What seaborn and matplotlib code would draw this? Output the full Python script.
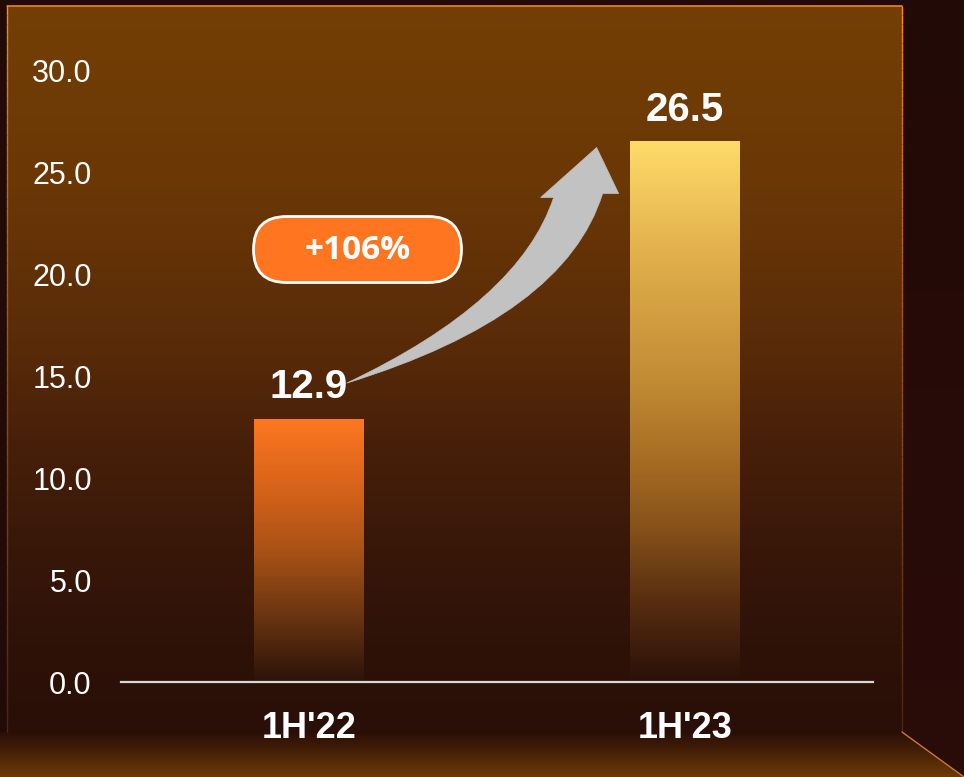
import numpy as np
import matplotlib
matplotlib.use("Agg")
import matplotlib.pyplot as plt
import seaborn as sns
import pandas as pd
from matplotlib.colors import LinearSegmentedColormap, to_rgba
from matplotlib.patches import Polygon, FancyBboxPatch, PathPatch
from matplotlib.path import Path
from matplotlib.collections import LineCollection

# ---------------- data ----------------
categories = ["1H'22", "1H'23"]
values = [12.9, 26.5]
growth_label = "+106%"
y_ticks = [0, 5, 10, 15, 20, 25, 30]

# ---------------- style ----------------
sns.set_theme(style="white")
plt.rcParams["font.family"] = ["Liberation Sans", "DejaVu Sans"]

W, H = 964, 777
fig = plt.figure(figsize=(W / 100, H / 100), dpi=100, facecolor="#220a06")


def vgrad(stops, n=256):
    cmap = LinearSegmentedColormap.from_list("g", stops)
    return cmap(np.linspace(0, 1, n))[:, None, :]


# ---------------- background (pixel coords) ----------------
bg = fig.add_axes([0, 0, 1, 1], zorder=0)
bg.set_xlim(0, W)
bg.set_ylim(H, 0)
bg.axis("off")

# right wall tint
wall = Polygon([(902, 0), (964, 0), (964, 777), (902, 732)], closed=True,
               facecolor="none", edgecolor="none")
bg.add_patch(wall)
wall_im = bg.imshow(vgrad([(0, "#220a07"), (0.5, "#260b08"), (1, "#2a0c08")]),
                    extent=[902, 964, 777, 0], aspect="auto",
                    interpolation="bilinear", zorder=1)
wall_im.set_clip_path(wall)

panel_stops = [(0, "#743f05"), (0.25, "#6a3706"), (0.45, "#5a2c08"),
               (0.6, "#48200a"), (0.75, "#381709"), (0.88, "#2e1208"),
               (1, "#290f07")]
bg.imshow(vgrad(panel_stops), extent=[7, 902, 732, 6], aspect="auto",
          interpolation="bilinear", zorder=1)

floor_poly = Polygon([(0, 732), (902, 732), (964, 777), (0, 777)],
                     closed=True, facecolor="none", edgecolor="none")
bg.add_patch(floor_poly)
floor_im = bg.imshow(vgrad([(0, "#2a0e06"), (0.5, "#4a2307"), (1, "#6e3a06")]),
                     extent=[0, 964, 777, 732], aspect="auto",
                     interpolation="bilinear", zorder=1)
floor_im.set_clip_path(floor_poly)

# panel border: bright on top, fading down the sides
bg.plot([7, 902], [6, 6], color="#ff8c1a", lw=1.1, zorder=3)
bright = np.array(to_rgba("#ff8c1a"))
dim = np.array(to_rgba("#4a2414"))
ys = np.linspace(6, 732, 80)
for xe in (7, 902):
    segs = [[(xe, ys[k]), (xe, ys[k + 1])] for k in range(len(ys) - 1)]
    t = np.clip((ys[:-1] - 6) / 726, 0, 1) ** 0.8
    cols = bright[None, :] * (1 - t[:, None]) + dim[None, :] * t[:, None]
    bg.add_collection(LineCollection(segs, colors=cols, lw=1.0, zorder=3))
bg.plot([902, 964], [732, 777], color="#c87a30", lw=1.0, zorder=3)
bg.set_xlim(0, W)
bg.set_ylim(H, 0)

# ---------------- main chart ----------------
ax = fig.add_axes([121 / W, (H - 682) / H, 752 / W, 612 / H], zorder=2)
ax.patch.set_alpha(0)

df = pd.DataFrame({"period": categories, "value": values})
sns.barplot(data=df, x="period", y="value", ax=ax, width=0.29,
            color="#fd7721", saturation=1, errorbar=None)

bar_stops = [
    [(0, "#fd7721"), (0.25, "#d9641b"), (0.5, "#aa5216"),
     (0.75, "#6a3511"), (1, "#2c1309")],
    [(0, "#fedb69"), (0.2, "#e3b14d"), (0.45, "#c08a33"), (0.6, "#a56a22"),
     (0.72, "#85501a"), (0.86, "#552c10"), (1, "#2a1009")],
]
for p, stops in zip(ax.patches, bar_stops):
    x0, w, h = p.get_x(), p.get_width(), p.get_height()
    p.set_facecolor("none")
    p.set_edgecolor("none")
    im = ax.imshow(vgrad(stops), extent=[x0, x0 + w, 0, h], aspect="auto",
                   interpolation="bilinear", zorder=2)
    im.set_clip_path(p)

ax.set_xlim(-0.5, 1.5)
ax.set_ylim(0, 30)
ax.set_yticks(y_ticks)
ax.set_yticklabels([f"{t:.1f}" for t in y_ticks])
ax.set_xlabel("")
ax.set_ylabel("")
for s in ["top", "right", "left"]:
    ax.spines[s].set_visible(False)
ax.spines["bottom"].set_color("#d8d8d8")
ax.spines["bottom"].set_linewidth(1.6)
ax.tick_params(axis="y", length=0, pad=21, labelsize=22, labelcolor="white")
ax.tick_params(axis="x", length=0, pad=21, labelsize=26, labelcolor="white")
for lab in ax.get_xticklabels():
    lab.set_fontweight("bold")

for i, v in enumerate(values):
    ax.annotate(f"{v:.1f}", (i, v), xytext=(0, 15), textcoords="offset points",
                ha="center", va="baseline", fontsize=29, fontweight="bold",
                color="white", zorder=5)

# ---------------- overlay: growth arrow + pill ----------------
ov = fig.add_axes([0, 0, 1, 1], zorder=3)
ov.patch.set_alpha(0)
ov.axis("off")
ov.set_xlim(0, W)
ov.set_ylim(H, 0)


def d2p(x, y):
    dx, dy = ax.transData.transform((x, y))
    return np.array([dx, H - dy])


tail = d2p(0 + 0.10, values[0] + 1.75)
tip = d2p(1 - 0.235, values[1] - 0.3)
left_barb = tip + np.array([-56, 50])
right_barb = tip + np.array([22, 46])
inner_left = tip + np.array([-43, 50])
inner_right = tip + np.array([6, 46])
ctrl_up = tail + np.array([173, -82])
ctrl_lo = tail + np.array([218, -67])

verts = [tail, ctrl_up, inner_left, left_barb, tip, right_barb, inner_right,
         ctrl_lo, tail, tail]
codes = [Path.MOVETO, Path.CURVE3, Path.CURVE3, Path.LINETO, Path.LINETO,
         Path.LINETO, Path.LINETO, Path.CURVE3, Path.CURVE3, Path.CLOSEPOLY]
ov.add_patch(PathPatch(Path(verts, codes), facecolor="#c2c2c2",
                       edgecolor="#c2c2c2", lw=0.5, zorder=4))

pc = d2p(0.129, 21.2)
pw, ph = 208, 66
ov.add_patch(FancyBboxPatch((pc[0] - pw / 2, pc[1] - ph / 2), pw, ph,
                            boxstyle=f"round,pad=0,rounding_size={ph/2}",
                            facecolor="#ff7520", edgecolor="white", lw=2,
                            zorder=5))
ov.text(pc[0], pc[1] + 1, growth_label, ha="center", va="center",
        fontsize=24, fontweight="bold", color="white",
        family=["Open Sans", "DejaVu Sans"], zorder=6)

fig.savefig("out.png", dpi=100, facecolor=fig.get_facecolor())
